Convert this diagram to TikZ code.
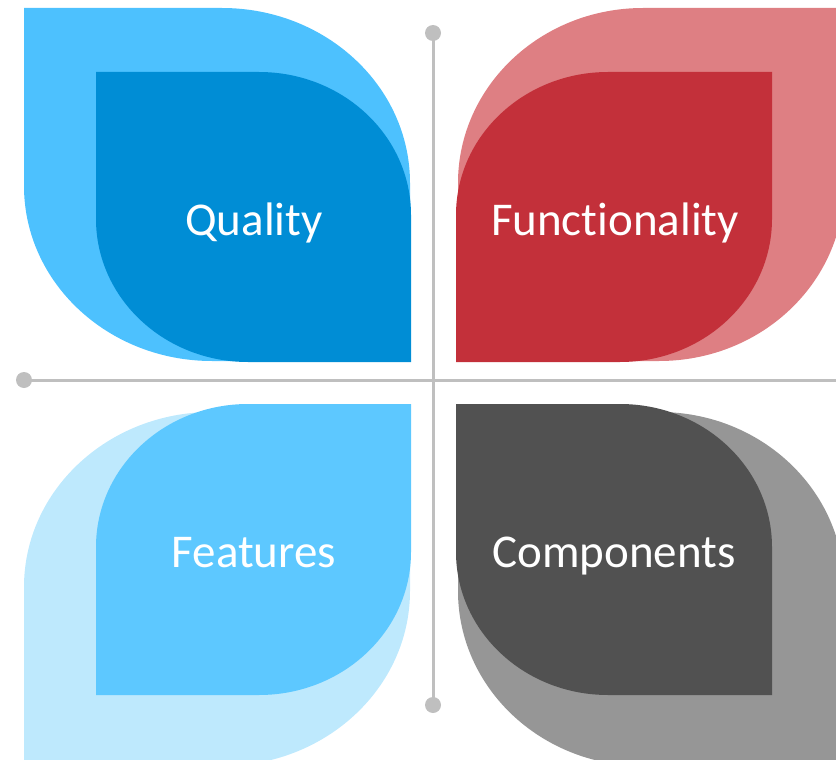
\documentclass[tikz,border=0pt]{standalone}
\usepackage{fontspec}
\setmainfont{Carlito}[Ligatures=CommonOff]
\usepackage{tikz}

\definecolor{bluepale}{HTML}{4DC1FE}
\definecolor{bluedeep}{HTML}{008DD5}
\definecolor{redpale}{HTML}{DE7F83}
\definecolor{reddeep}{HTML}{C3303A}
\definecolor{skypale}{HTML}{BEE9FD}
\definecolor{skydeep}{HTML}{5DC8FF}
\definecolor{greypale}{HTML}{969696}
\definecolor{greydeep}{HTML}{515151}
\definecolor{axisgrey}{HTML}{BFBFBF}

% leaf with round top-right and bottom-left corners
% #1 colour, #2 left, #3 top, #4 right, #5 bottom, #6 x radius, #7 y radius
\newcommand{\leafright}[7]{%
  \pgfmathsetmacro\kx{#6*0.4477}\pgfmathsetmacro\ky{#7*0.4477}%
  \fill[#1] (#2,#3) -- ({#4-#6},#3) .. controls ({#4-\kx},#3) and (#4,{#3+\ky}) .. (#4,{#3+#7})
    -- (#4,#5) -- ({#2+#6},#5) .. controls ({#2+\kx},#5) and (#2,{#5-\ky}) .. (#2,{#5-#7}) -- cycle;}
% leaf with round top-left and bottom-right corners
\newcommand{\leafleft}[7]{%
  \pgfmathsetmacro\kx{#6*0.4477}\pgfmathsetmacro\ky{#7*0.4477}%
  \fill[#1] (#4,#3) -- (#4,{#5-#7}) .. controls (#4,{#5-\ky}) and ({#4-\kx},#5) .. ({#4-#6},#5)
    -- (#2,#5) -- (#2,{#3+#7}) .. controls (#2,{#3+\ky}) and ({#2+\kx},#3) .. ({#2+#6},#3) -- cycle;}

\tikzset{
  word/.style={text=white, anchor=base, inner sep=0pt, font=\fontsize{47}{56}\selectfont},
  knob/.style={circle, fill=axisgrey, minimum size=16pt, inner sep=0pt},
  axis/.style={draw=axisgrey, line width=3pt}
}

\begin{document}
\begin{tikzpicture}[x=1pt, y=-1pt]
    \useasboundingbox (0,0) rectangle (836,760);
    \clip (0,0) rectangle (836,760);
%
    \leafright{bluepale}{24}{8}{410}{361}{188}{175}
    \leafright{bluedeep}{96}{72}{411}{362}{152}{143}
    \node[word] (quality) at (254,235) {Quality};
%
    \leafleft{redpale}{458}{8}{844}{361}{185}{175}
    \leafleft{reddeep}{456}{72}{772}{362}{152}{143}
    \node[word] (functionality) at (615,235) {Functionality};
%
    \leafleft{skypale}{24}{412}{410}{766}{188}{175}
    \leafleft{skydeep}{96}{404}{411}{695}{152}{143}
    \node[word] (features) at (254,567) {Features};
%
    \leafright{greypale}{458}{412}{844}{766}{185}{175}
    \leafright{greydeep}{456}{404}{772}{695}{152}{143}
    \node[word] (components) at (614,567) {Components};
%
    \node[knob] (top) at (433,33) {};
    \node[knob] (bottom) at (433,705) {};
    \node[knob] (left) at (24,380) {};
    \coordinate (right) at (836,380);
    \draw[axis] (top.center) -- (bottom.center);
    \draw[axis] (left.center) -- (right);
\end{tikzpicture}
\end{document}
